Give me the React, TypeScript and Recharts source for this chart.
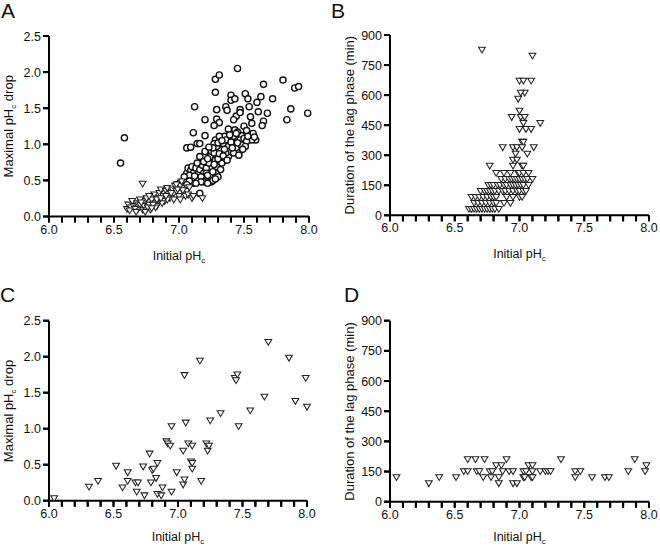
import React from "react";
import { ScatterChart, Scatter, XAxis, YAxis } from "recharts";

// values
const xTicks = [6.0, 6.1, 6.2, 6.3, 6.4, 6.5, 6.6, 6.7, 6.8, 6.9, 7.0, 7.1, 7.2, 7.3, 7.4, 7.5, 7.6, 7.7, 7.8, 7.9, 8.0];
const xLabelTicks = [6.0, 6.5, 7.0, 7.5, 8.0];
const dropTicks = [0, 0.5, 1.0, 1.5, 2.0, 2.5];
const lagTicks = [0, 150, 300, 450, 600, 750, 900];

const aCircles = [
  [6.55, 0.74], [6.58, 1.09], [7.12, 1.52], [7.11, 1.16], [7.06, 0.95], [7.09, 0.96], [7.14, 1.01], [7.16, 1.01],
  [7.16, 0.32], [7.2, 1.34], [7.2, 1.12], [7.28, 1.72], [7.28, 1.9], [7.31, 1.96], [7.45, 2.05], [7.29, 1.48],
  [7.29, 1.35], [7.31, 1.3], [7.27, 1.26], [7.36, 1.52], [7.37, 1.47], [7.4, 1.68], [7.4, 1.61], [7.43, 1.63],
  [7.44, 1.39], [7.47, 1.48], [7.47, 1.44], [7.42, 1.34], [7.51, 1.7], [7.53, 1.63], [7.54, 1.52], [7.55, 1.38],
  [7.56, 1.29], [7.5, 1.25], [7.43, 1.2], [7.38, 1.21], [7.38, 0.83], [7.6, 1.58], [7.63, 1.66], [7.65, 1.83],
  [7.61, 1.45], [7.65, 1.32], [7.64, 1.26], [7.68, 1.43], [7.72, 1.63], [7.8, 1.89], [7.83, 1.34], [7.86, 1.49],
  [7.89, 1.78], [7.92, 1.8], [7.99, 1.43], [7.57, 1.15], [7.59, 1.06], [7.56, 1.06], [7.58, 1.1], [7.52, 1.19],
  [7.48, 1.12], [7.45, 1.17],
  [7.01, 0.47], [7.03, 0.47], [7.05, 0.51], [7.06, 0.6], [7.07, 0.67], [7.09, 0.64], [7.1, 0.69], [7.11, 0.6],
  [7.13, 0.67], [7.14, 0.51], [7.11, 0.46], [7.1, 0.53], [7.15, 0.6], [7.16, 0.65], [7.18, 0.71], [7.19, 0.6],
  [7.2, 0.51], [7.19, 0.48], [7.21, 0.67], [7.23, 0.74], [7.24, 0.83], [7.25, 0.9], [7.27, 0.88], [7.28, 0.78],
  [7.29, 0.69], [7.29, 0.6], [7.3, 0.55], [7.25, 0.48], [7.24, 0.55], [7.21, 0.6], [7.32, 0.65], [7.33, 0.74],
  [7.32, 0.83], [7.32, 0.92], [7.34, 1.01], [7.35, 1.11], [7.36, 1.06], [7.38, 0.97], [7.39, 0.9], [7.36, 0.88],
  [7.29, 0.97], [7.28, 1.06], [7.31, 1.11], [7.27, 1.01], [7.42, 1.11], [7.43, 1.01], [7.44, 0.95], [7.46, 0.88],
  [7.42, 0.88], [7.47, 1.06], [7.48, 0.99], [7.5, 1.08], [7.52, 1.04], [7.53, 1.11], [7.51, 0.97], [7.44, 1.15],
  [7.39, 1.13], [7.16, 0.83], [7.19, 0.76], [7.2, 0.9], [7.14, 0.74], [7.08, 0.57], [7.12, 0.56], [7.17, 0.55],
  [7.22, 0.57], [7.26, 0.62], [7.27, 0.72], [7.3, 0.8], [7.31, 0.87], [7.34, 0.84], [7.35, 0.93], [7.37, 0.78],
  [7.22, 0.8], [7.26, 0.95], [7.23, 0.96], [7.3, 1.02], [7.33, 1.05], [7.4, 1.03], [7.41, 0.95], [7.45, 1.02],
  [7.49, 0.93], [7.46, 0.85], [7.26, 0.5], [7.28, 0.52], [7.04, 0.55], [7.08, 0.49], [7.17, 0.48], [7.22, 0.46],
  [7.13, 0.46], [7.06, 0.44], [6.98, 0.44], [7.0, 0.41],
];

const aTriangles = [
  [6.72, 0.45], [6.6, 0.1], [6.61, 0.16], [6.64, 0.21], [6.65, 0.14], [6.68, 0.18], [6.69, 0.12], [6.7, 0.16],
  [6.72, 0.09], [6.73, 0.14], [6.74, 0.21], [6.75, 0.25], [6.77, 0.16], [6.78, 0.09], [6.79, 0.23], [6.81, 0.3],
  [6.82, 0.18], [6.83, 0.14], [6.84, 0.25], [6.85, 0.32], [6.86, 0.37], [6.88, 0.28], [6.89, 0.21], [6.9, 0.35],
  [6.91, 0.39], [6.92, 0.3], [6.93, 0.25], [6.95, 0.37], [6.96, 0.32], [6.97, 0.42], [6.98, 0.35], [7.0, 0.28],
  [7.01, 0.23], [7.02, 0.39], [7.04, 0.32], [7.05, 0.28], [7.06, 0.35], [7.07, 0.3], [7.1, 0.25], [7.11, 0.28],
  [7.18, 0.25], [6.7, 0.23], [6.77, 0.28], [6.82, 0.12], [6.75, 0.09], [6.68, 0.09], [6.63, 0.12], [6.83, 0.23],
  [6.87, 0.18], [6.91, 0.23], [6.96, 0.23], [7.01, 0.42], [7.02, 0.48], [6.98, 0.44], [6.66, 0.1], [6.71, 0.19],
  [6.76, 0.12], [6.8, 0.16], [6.86, 0.25], [6.9, 0.28], [6.94, 0.32], [6.99, 0.37], [7.03, 0.36], [7.08, 0.4],
  [6.62, 0.08], [6.67, 0.06], [6.74, 0.06], [6.79, 0.11],
];

const bPoints = [
  [6.71, 825], [7.1, 795], [7.0, 670], [7.03, 670], [7.09, 670], [7.04, 610], [7.01, 610], [6.99, 580],
  [7.0, 520], [6.94, 489], [7.01, 489], [7.04, 489], [7.03, 459], [7.16, 459], [7.0, 429], [7.05, 429],
  [7.09, 429], [7.02, 365], [7.03, 365], [6.87, 338], [6.95, 338], [6.98, 338], [7.02, 338], [7.11, 338],
  [6.97, 306], [7.06, 306], [6.95, 276], [6.98, 276], [6.77, 246], [6.95, 246], [7.02, 246], [7.03, 246],
  [6.82, 210], [6.88, 210], [6.93, 210], [6.99, 210], [7.0, 210], [7.03, 210], [7.07, 210],
  [6.86, 180], [6.89, 180], [6.92, 180], [6.94, 180], [6.96, 180], [6.98, 180], [7.0, 180], [7.02, 180],
  [7.04, 180], [7.06, 180], [7.1, 180],
  [6.76, 150], [6.78, 150], [6.8, 150], [6.83, 150], [6.85, 150], [6.88, 150], [6.9, 150], [6.93, 150],
  [6.95, 150], [6.97, 150], [6.99, 150], [7.01, 150], [7.03, 150], [7.07, 150],
  [6.7, 120], [6.73, 120], [6.75, 120], [6.77, 120], [6.79, 120], [6.81, 120], [6.84, 120], [6.87, 120],
  [6.89, 120], [6.92, 120], [6.95, 120], [6.98, 120], [7.0, 120], [7.03, 120], [7.05, 120],
  [6.63, 90], [6.66, 90], [6.69, 90], [6.72, 90], [6.75, 90], [6.78, 90], [6.8, 90], [6.82, 90],
  [6.9, 90], [6.95, 90], [7.0, 90], [7.02, 90],
  [6.65, 60], [6.68, 60], [6.71, 60], [6.74, 60], [6.77, 60], [6.8, 60], [6.82, 60], [6.88, 60], [6.93, 60],
  [6.61, 30], [6.63, 30], [6.65, 30], [6.67, 30], [6.69, 30], [6.71, 30], [6.73, 30], [6.75, 30], [6.77, 30],
  [6.79, 30], [6.81, 30], [6.84, 30],
];

const cPoints = [
  [6.04, 0.03], [6.31, 0.19], [6.38, 0.27], [6.52, 0.48], [6.57, 0.18], [6.61, 0.39], [6.61, 0.27], [6.67, 0.25],
  [6.69, 0.25], [6.68, 0.12], [6.74, 0.07], [6.73, 0.47], [6.78, 0.65], [6.79, 0.25], [6.8, 0.42], [6.81, 0.44],
  [6.83, 0.31], [6.84, 0.52], [6.84, 0.09], [6.87, 0.07], [6.88, 0.18], [6.91, 0.82], [6.92, 0.79], [6.94, 0.76],
  [6.95, 1.03], [6.95, 0.12], [6.99, 0.39], [7.04, 0.69], [7.04, 0.22], [7.05, 0.29], [7.05, 1.74], [7.06, 1.08],
  [7.08, 0.79], [7.11, 0.76], [7.1, 0.54], [7.11, 0.52], [7.11, 0.44], [7.17, 1.94], [7.18, 0.27], [7.22, 0.79],
  [7.23, 0.69], [7.24, 0.76], [7.25, 1.11], [7.33, 1.21], [7.44, 1.7], [7.46, 1.75], [7.45, 1.67], [7.47, 1.03],
  [7.56, 1.25], [7.67, 1.44], [7.7, 2.2], [7.86, 1.98], [7.91, 1.38], [7.99, 1.7], [8.0, 1.3],
];

const dPoints = [
  [6.05, 120], [6.3, 90], [6.38, 120], [6.51, 120], [6.57, 150], [6.6, 150], [6.6, 210], [6.66, 210],
  [6.67, 150], [6.69, 150], [6.72, 120], [6.73, 210], [6.77, 150], [6.78, 120], [6.79, 150], [6.82, 180],
  [6.84, 120], [6.84, 90], [6.86, 180], [6.87, 150], [6.9, 210], [6.92, 150], [6.95, 90], [6.95, 150],
  [6.98, 90], [7.03, 120], [7.03, 150], [7.05, 150], [7.04, 120], [7.07, 180], [7.1, 180], [7.09, 120],
  [7.1, 120], [7.1, 150], [7.16, 150], [7.2, 150], [7.22, 150], [7.24, 150], [7.32, 210], [7.43, 120],
  [7.43, 150], [7.47, 150], [7.56, 120], [7.66, 120], [7.69, 120], [7.84, 150], [7.89, 210], [7.97, 150],
  [7.98, 180],
];

const toXY = (arr: number[][]) => arr.map(([x, y]) => ({ x, y }));

const FONT = "'Liberation Sans', Arial, Helvetica, sans-serif";
const INK = "#111";

const Circle = (p: any) => (
  <circle cx={p.cx} cy={p.cy} r={3.1} fill="#fff" stroke={INK} strokeWidth={1.4} />
);

const Triangle = (p: any) => (
  <path
    d={`M${p.cx - 3.4},${p.cy - 2.8}L${p.cx + 3.4},${p.cy - 2.8}L${p.cx},${p.cy + 3}Z`}
    fill="#fff"
    stroke="#222"
    strokeWidth={1.05}
  />
);

// axis tick marks drawn through the chart's own scales as a marker series
const XTickMark = (p: any) => (
  <rect x={p.cx - 1} y={p.cy} width={2} height={6} fill="#000" />
);
const YTickMark = (p: any) => (
  <rect x={p.cx - 6} y={p.cy - 1} width={6} height={2} fill="#000" />
);

// only every 0.5 gets a label
const XTick = (p: any) => {
  const v = p.payload.value;
  const major = xLabelTicks.some((t) => Math.abs(t - v) < 1e-6);
  if (!major) return <g />;
  return (
    <text x={p.x} y={p.y + 10} textAnchor="middle" fontSize={12.5} fontFamily={FONT} fill={INK}>
      {v.toFixed(1)}
    </text>
  );
};

const YTick = (p: any) => {
  const v = p.payload.value;
  return (
    <text x={p.x - 1} y={p.y + 4.5} textAnchor="end" fontSize={12.5} fontFamily={FONT} fill={INK}>
      {p.decimals ? v.toFixed(1) : v}
    </text>
  );
};

interface PanelProps {
  letter: string;
  left: number;
  top: number;
  plot: { l: number; t: number; r: number; b: number };
  yTitle: string;
  ySub: string;
  yRest: string;
  yTicks: number[];
  yMax: number;
  decimals: boolean;
  xTitleGap: number;
  series: { data: { x: number; y: number }[]; shape: any; name: string }[];
  letterPos: { x: number; y: number };
}

const W = 330;
const H = 274;

function Panel(props: PanelProps) {
  const { plot } = props;
  const margin = { top: plot.t, right: W - plot.r, bottom: H - plot.b - 30, left: plot.l - 40 };
  const midY = (plot.t + plot.b) / 2;
  const midX = (plot.l + plot.r) / 2;
  const stripW = plot.l - 30;
  const stripTop = plot.b + 22;
  const xMarks = xTicks.map((v) => ({ x: v, y: 0 }));
  const yMarks = props.yTicks.map((v) => ({ x: 6, y: v }));
  return (
    <div style={{ position: "absolute", left: props.left, top: props.top, width: W, height: H }}>
      <ScatterChart width={W} height={H} margin={margin}>
        <XAxis
          type="number"
          dataKey="x"
          domain={[6, 8]}
          ticks={xTicks}
          interval={0}
          height={30}
          stroke="#000"
          axisLine={{ stroke: "#000", strokeWidth: 2 }}
          tickLine={{ stroke: "#000", strokeWidth: 2 }}
          tickSize={6}
          tickMargin={1}
          tick={<XTick />}
        />
        <YAxis
          type="number"
          dataKey="y"
          domain={[0, props.yMax]}
          ticks={props.yTicks}
          interval={0}
          width={40}
          stroke="#000"
          axisLine={{ stroke: "#000", strokeWidth: 2 }}
          tickLine={{ stroke: "#000", strokeWidth: 2 }}
          tickSize={6}
          tickMargin={1}
          tick={<YTick decimals={props.decimals} />}
        />
        <Scatter name="x-tick-marks" data={xMarks} shape={XTickMark} isAnimationActive={false} />
        <Scatter name="y-tick-marks" data={yMarks} shape={YTickMark} isAnimationActive={false} />
        {props.series.map((s) => (
          <Scatter key={s.name} name={s.name} data={s.data} shape={s.shape} isAnimationActive={false} />
        ))}
      </ScatterChart>
      <div
        style={{
          position: "absolute",
          left: props.letterPos.x,
          top: props.letterPos.y,
          fontFamily: FONT,
          fontSize: 21,
          lineHeight: "22px",
          color: INK,
        }}
      >
        {props.letter}
      </div>
      <svg
        width={stripW}
        height={plot.b - plot.t + 20}
        style={{ position: "absolute", left: 0, top: plot.t - 10, pointerEvents: "none" }}
        fontFamily={FONT}
      >
        <text
          x={0}
          y={0}
          transform={`translate(${plot.l - 36},${midY - plot.t + 10}) rotate(-90)`}
          textAnchor="middle"
          fontSize={13}
          fill={INK}
        >
          {props.yTitle}
          <tspan fontSize={8} dy={3}>{props.ySub}</tspan>
          <tspan dy={-3}>{props.yRest}</tspan>
        </text>
      </svg>
      <svg
        width={W}
        height={H - stripTop}
        style={{ position: "absolute", left: 0, top: stripTop, pointerEvents: "none" }}
        fontFamily={FONT}
      >
        <text x={midX} y={plot.b + props.xTitleGap - stripTop} textAnchor="middle" fontSize={12.5} fill={INK}>
          Initial pH
          <tspan fontSize={8} dy={3}>c</tspan>
        </text>
      </svg>
    </div>
  );
}

export default function App() {
  return (
    <div style={{ position: "absolute", left: 0, top: 0, width: 660, height: 548, background: "#fff" }}>
      <Panel
        letter="A"
        left={0}
        top={0}
        plot={{ l: 49, t: 36, r: 309, b: 216.5 }}
        yTitle="Maximal pH"
        ySub="c"
        yRest=" drop"
        yTicks={dropTicks}
        yMax={2.5}
        decimals
        xTitleGap={43}
        letterPos={{ x: 1, y: 0 }}
        series={[
          { name: "circles", data: toXY(aCircles), shape: Circle },
          { name: "triangles", data: toXY(aTriangles), shape: Triangle },
        ]}
      />
      <Panel
        letter="B"
        left={330}
        top={0}
        plot={{ l: 60, t: 35, r: 319, b: 215.3 }}
        yTitle="Duration of the lag phase (min)"
        ySub=""
        yRest=""
        yTicks={lagTicks}
        yMax={900}
        decimals={false}
        xTitleGap={43}
        letterPos={{ x: 1, y: 0 }}
        series={[{ name: "lag", data: toXY(bPoints), shape: Triangle }]}
      />
      <Panel
        letter="C"
        left={0}
        top={274}
        plot={{ l: 49, t: 46.7, r: 307, b: 226.7 }}
        yTitle="Maximal pH"
        ySub="c"
        yRest=" drop"
        yTicks={dropTicks}
        yMax={2.5}
        decimals
        xTitleGap={40}
        letterPos={{ x: 0, y: 10 }}
        series={[{ name: "drop", data: toXY(cPoints), shape: Triangle }]}
      />
      <Panel
        letter="D"
        left={330}
        top={274}
        plot={{ l: 60, t: 46.7, r: 319, b: 227.7 }}
        yTitle="Duration of the lag phase (min)"
        ySub=""
        yRest=""
        yTicks={lagTicks}
        yMax={900}
        decimals={false}
        xTitleGap={39}
        letterPos={{ x: 14, y: 10 }}
        series={[{ name: "lag", data: toXY(dPoints), shape: Triangle }]}
      />
    </div>
  );
}
